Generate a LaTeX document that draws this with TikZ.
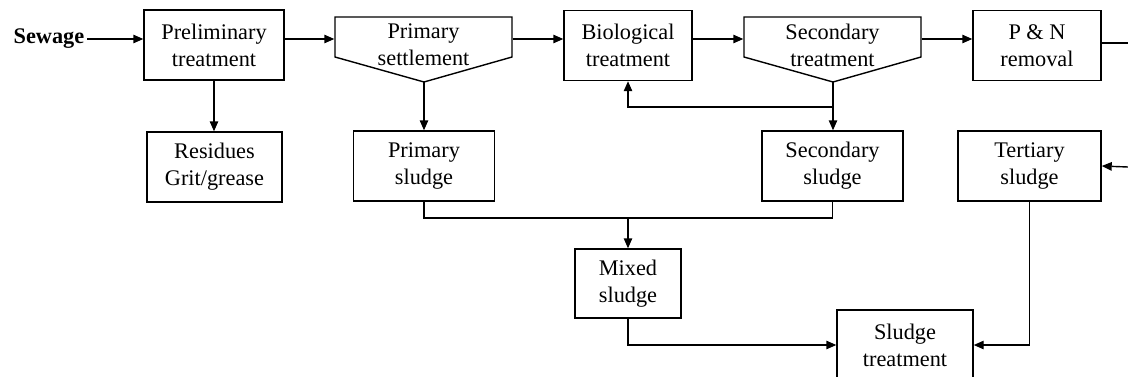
\documentclass[tikz,border=0pt]{standalone}
\usepackage{fontspec}
\setmainfont{Liberation Serif}
\usetikzlibrary{arrows.meta}

\begin{document}
\begin{tikzpicture}[x=0.5pt, y=-0.5pt, line width=0.7pt,
    font=\fontsize{11.15}{13.5}\selectfont,
    box/.style={draw, align=center, inner sep=0pt, minimum height=35pt},
    tank/.style={align=center, inner sep=0pt, minimum width=88.5pt, minimum height=35pt},
    flow/.style={-{Triangle[length=5pt,width=4.2pt]}}]
    \useasboundingbox (0,0) rectangle (1128,376);
    \clip (0,0) rectangle (1128,376);

    % main line
    \node[font=\fontsize{11.15}{13.5}\selectfont\bfseries, inner sep=1pt] (sew) at (49,39) {Sewage};
    \node[box, minimum width=70pt] (prelim) at (214,45) {Preliminary\\treatment};
    \node[tank] (sett) at (423.5,45) {Primary\\settlement};
    \node[box, minimum width=64pt] (bio) at (628,45.5) {Biological\\treatment};
    \node[tank] (sec) at (832.5,45) {Secondary\\treatment};
    \node[box, minimum width=64pt] (pn) at (1037,45.5) {P \& N\\removal};

    % the two tanks
    \draw (335,57) -- (335,17) -- (512,17) -- (512,57) -- (424,82) -- cycle;
    \draw (744,57) -- (744,17) -- (921,17) -- (921,57) -- (833,82) -- cycle;
    \coordinate (setttip) at (424,82); \coordinate (sectip) at (833,82);

    % sludges
    \node[box, minimum width=67.5pt] (resid) at (214.5,167) {Residues\\Grit/grease};
    \node[box, minimum width=70.5pt] (psl) at (424,166) {Primary\\sludge};
    \node[box, minimum width=70.5pt] (ssl) at (832.5,166) {Secondary\\sludge};
    \node[box, minimum width=71.5pt] (tsl) at (1029.5,166) {Tertiary\\sludge};
    \node[box, minimum width=53pt, minimum height=34.5pt] (mix) at (628,283.5) {Mixed\\sludge};
    \node[box, minimum width=68pt] (stt) at (905,345) {Sludge\\treatment};

    \coordinate (ret) at (833,107); \coordinate (join) at (628,218);
    \coordinate (pnout) at (1128,43); \coordinate (tslin) at (1128,167);

    \draw[flow] (sew.east) -- (sew.east -| prelim.west);
    \draw[flow] (prelim.east |- sew) -- (sett.west |- sew);
    \draw[flow] (sett.east |- sew) -- (bio.west |- sew);
    \draw[flow] (bio.east |- sew) -- (sec.west |- sew);
    \draw[flow] (sec.east |- sew) -- (pn.west |- sew);
    \draw (pn.east |- pnout) -- (pnout);

    \draw[flow] (prelim.south) -- (prelim.south |- resid.north);
    \draw[flow] (setttip) -- (setttip |- psl.north);
    \draw[flow] (sectip) -- (sectip |- ssl.north);
    \draw[flow] (ret) -| (bio.south);

    \draw (psl.south) |- (join) -| (ssl.south);
    \draw[flow] (join) -- (mix.north);
    \draw[flow] (mix.south) |- (stt.west);
    \draw[flow] (tsl.south) |- (stt.east);
    \draw[flow] (tslin) -- (tsl.east);
\end{tikzpicture}
\end{document}
